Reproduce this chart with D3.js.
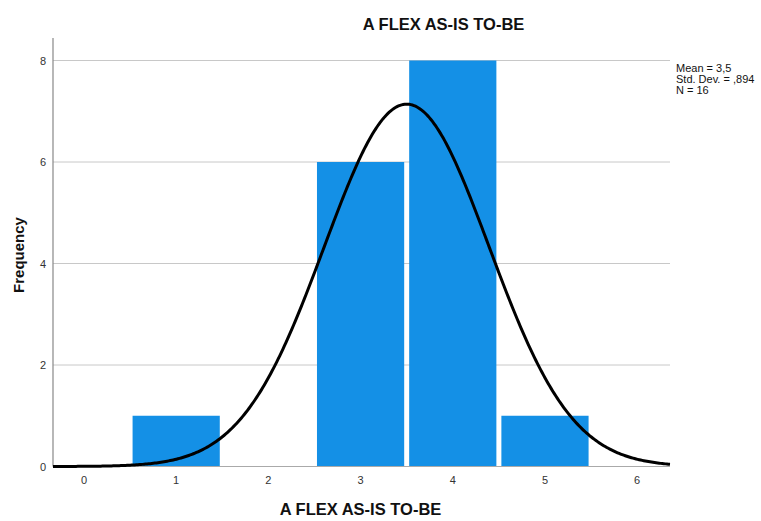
<!DOCTYPE html>
<html>
<head>
<meta charset="utf-8">
<script src="https://cdn.jsdelivr.net/npm/d3@7"></script>
<style>
  html, body { margin: 0; padding: 0; background: #fff; }
  svg { display: block; font-family: Arial, "Liberation Sans", sans-serif; }
</style>
</head>
<body>
<svg id="chart" width="761" height="521"></svg>
<script>
// Histogram of the variable with bins centred on integer values
const binCenters = [1, 2, 3, 4, 5];
const binCounts = [1, 0, 6, 8, 1];
const xTicks = [0, 1, 2, 3, 4, 5, 6];
const yTicks = [0, 2, 4, 6, 8];
const stats = { mean: 3.5, sd: 0.894, n: 16 };
const statLabels = ["Mean = 3,5", "Std. Dev. = ,894", "N = 16"];
const titleText = "A FLEX AS-IS TO-BE";
const xLabelText = "A FLEX AS-IS TO-BE";
const yLabelText = "Frequency";

const svg = d3.select("#chart");
const plotLeft = 53, plotRight = 670, plotTop = 38, plotBottom = 466.5;

const x = d3.scaleLinear().domain([-0.336, 6.356]).range([plotLeft, plotRight]);
const y = d3.scaleLinear().domain([0, 8]).range([plotBottom, plotBottom - 406]);

// gridlines
svg.append("g").selectAll("line").data(yTicks.filter(d => d > 0)).join("line")
  .attr("x1", plotLeft).attr("x2", plotRight)
  .attr("y1", d => y(d)).attr("y2", d => y(d))
  .attr("stroke", "#c8c8c8").attr("stroke-width", 1);

// bars
const inset = 2.5;
svg.append("g").selectAll("rect").data(binCenters.map((c, i) => ({ c, v: binCounts[i] })).filter(d => d.v > 0))
  .join("rect")
  .attr("x", d => x(d.c - 0.5) + inset)
  .attr("width", d => x(d.c + 0.5) - x(d.c - 0.5) - 2 * inset)
  .attr("y", d => y(d.v))
  .attr("height", d => y(0) - y(d.v))
  .attr("fill", "#1490e6");

// axis lines
svg.append("line").attr("x1", plotLeft).attr("x2", plotLeft).attr("y1", plotTop).attr("y2", plotBottom)
  .attr("stroke", "#888").attr("stroke-width", 1.2);
svg.append("line").attr("x1", plotLeft).attr("x2", plotRight).attr("y1", plotBottom).attr("y2", plotBottom)
  .attr("stroke", "#aaa").attr("stroke-width", 1.2);

// fitted normal curve scaled to counts (bin width 1)
const binWidth = 1;
const normal = v => stats.n * binWidth / (stats.sd * Math.sqrt(2 * Math.PI)) *
  Math.exp(-0.5 * Math.pow((v - stats.mean) / stats.sd, 2));
const [d0, d1] = x.domain();
const xs = d3.range(0, 401).map(i => d0 + (d1 - d0) * i / 400);
svg.append("path")
  .datum(xs)
  .attr("d", d3.line().x(v => x(v)).y(v => y(normal(v))))
  .attr("fill", "none").attr("stroke", "#000").attr("stroke-width", 3);

// tick labels
svg.append("g").selectAll("text").data(yTicks).join("text")
  .attr("x", 46).attr("y", d => y(d) + 4)
  .attr("text-anchor", "end").attr("font-size", 11).attr("fill", "#333")
  .text(d => d);
svg.append("g").selectAll("text").data(xTicks).join("text")
  .attr("x", d => x(d)).attr("y", 484)
  .attr("text-anchor", "middle").attr("font-size", 11).attr("fill", "#333")
  .text(d => d);

// titles
svg.append("text").attr("x", 443.5).attr("y", 30).attr("text-anchor", "middle")
  .attr("font-size", 16.5).attr("font-weight", "bold").attr("fill", "#111").text(titleText);
svg.append("text").attr("x", 360.5).attr("y", 515).attr("text-anchor", "middle")
  .attr("font-size", 16.5).attr("font-weight", "bold").attr("fill", "#111").text(xLabelText);
svg.append("text").attr("transform", "translate(24,255) rotate(-90)").attr("text-anchor", "middle")
  .attr("font-size", 15).attr("font-weight", "bold").attr("fill", "#111").text(yLabelText);

// statistics box
svg.append("g").selectAll("text").data(statLabels).join("text")
  .attr("x", 676).attr("y", (d, i) => 72 + i * 11)
  .attr("font-size", 11).attr("fill", "#111").text(d => d);
</script>
</body>
</html>
